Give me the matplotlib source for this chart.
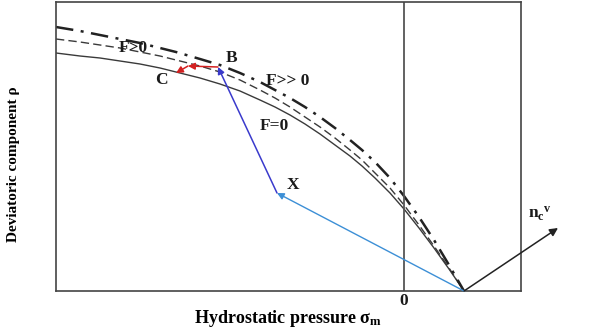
"""
Schematic of the yield surface in the meridian plane (rho vs sigma_m)
"""

import matplotlib
matplotlib.use('Agg')
import matplotlib.pyplot as plt

plt.rcParams['font.family'] = ['Liberation Serif', 'DejaVu Serif']
plt.rcParams['mathtext.fontset'] = 'custom'
plt.rcParams['mathtext.rm'] = 'Liberation Serif'
plt.rcParams['mathtext.bf'] = 'Liberation Serif:bold'
plt.rcParams['mathtext.it'] = 'Liberation Serif:italic'

# ---------- data (units: hydrostatic pressure / deviatoric component) ----------
# common x positions of the three surfaces
sigma_m = [-348, -324, -304, -284, -264, -244, -228, -204, -184, -164, -144, -129,
           -114, -99, -84, -69, -54, -42, -29, -14, 0, 15, 30, 45, 60]
# F = 0 (solid)
rho_f0 = [238, 235, 233, 230, 227, 223, 219, 213, 207, 200, 191, 184,
          176, 167, 157, 146, 135, 125, 113, 98, 82, 63, 43, 22, 0]
# F > 0 (dashed)
rho_fpos = [252, 249, 246, 243, 239, 235, 231, 225, 219, 211, 201, 193,
            184, 174, 164, 153, 141, 131, 118, 103, 86, 66, 45, 23, 0]
# F >> 0 (dash-dot)
rho_fbig = [264, 260, 256, 252, 248, 243, 239, 232, 226, 218, 209, 201,
            193, 184, 174, 163, 151, 141, 129, 113, 95, 74, 51, 26, 0]

# points of the return-mapping path
apex = (60, 0)
pt_x = (-127, 98)
pt_b = (-186, 224)
pt_mid = (-216, 225)
pt_c = (-228, 218)
pt_n = (154, 63)

x_lim = (-348, 117)
y_lim = (0, 289)

# ---------- figure ----------
fig = plt.figure(figsize=(5.92, 3.34), dpi=100)
ax = fig.add_axes([56 / 592, 43 / 334, 465 / 592, 289 / 334])

ax.plot(sigma_m, rho_f0, color='#3a3a3a', lw=1.0)
ax.plot(sigma_m, rho_fpos, color='#3a3a3a', lw=1.0, dashes=(6, 3))
ax.plot(sigma_m, rho_fbig, color='#222222', lw=1.8, dashes=(7, 3, 1.2, 3))

ax.axvline(0, color='#555555', lw=1.3)


def arrow(start, end, color, lw=1.0, size=10):
    ax.annotate('', xy=end, xytext=start, annotation_clip=False,
                arrowprops=dict(arrowstyle='-|>', color=color, lw=lw,
                                mutation_scale=size, shrinkA=0, shrinkB=0))


arrow(apex, pt_x, '#3c8fd6', lw=1.0)
arrow(pt_x, pt_b, '#3a3acc', lw=1.1)
arrow(pt_b, pt_mid, '#d42020', lw=1.1, size=10)
arrow(pt_mid, pt_c, '#d42020', lw=1.1, size=10)
arrow(apex, pt_n, '#222222', lw=1.1, size=12)

lbl = dict(fontsize=12.5, fontweight='bold', color='#1a1a1a')
ax.text(pt_b[0] + 8, pt_b[1] + 9, 'B', ha='left', va='center', **lbl)
ax.text(pt_c[0] - 8, pt_c[1] - 7, 'C', ha='right', va='center', **lbl)
ax.text(pt_x[0] + 10, pt_x[1] + 8, 'X', ha='left', va='center', **lbl)
ax.text(-116, 210, 'F>> 0', ha='center', va='center', **lbl)
ax.text(-130, 165, 'F=0', ha='center', va='center', **lbl)
ax.text(-271, 243, 'F>0', ha='center', va='center', **lbl)
ax.text(0, -2, '0', ha='center', va='top', **lbl)
ax.text(136, 77, r'$\mathbf{n_c}^{\mathbf{v}}$', ha='center', va='center',
        fontsize=12.5, color='#1a1a1a', clip_on=False)

ax.set_xlim(*x_lim)
ax.set_ylim(*y_lim)
ax.set_xticks([])
ax.set_yticks([])
for sp in ax.spines.values():
    sp.set_color('#444444')
    sp.set_linewidth(1.2)

ax.set_xlabel(r'Hydrostatic pressure σ$_\mathbf{m}$', fontsize=13,
              fontweight='bold', labelpad=12)
ax.set_ylabel('Deviatoric component ρ', fontsize=11, fontweight='bold')
ax.yaxis.set_label_coords(-0.078, 0.44)

fig.savefig('out.png', dpi=100)
